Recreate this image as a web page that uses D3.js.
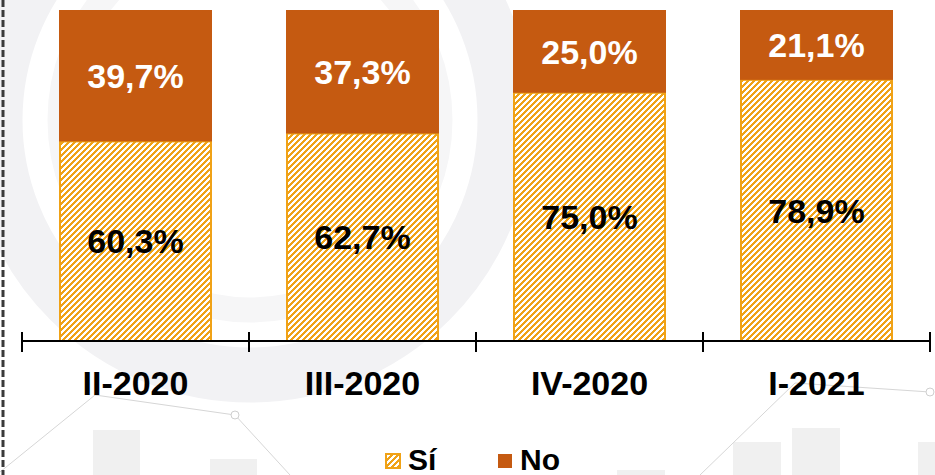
<!DOCTYPE html>
<html>
<head>
<meta charset="utf-8">
<script src="https://cdn.jsdelivr.net/npm/d3@7"></script>
<style>
  html, body { margin: 0; padding: 0; background: #ffffff; }
  svg { display: block; font-family: "Liberation Sans", Arial, sans-serif; }
</style>
</head>
<body>
<svg id="chart" width="935" height="475"></svg>
<script>
// Quarterly share of answers
const quarters = ["II-2020", "III-2020", "IV-2020", "I-2021"];
const siValues = [60.3, 62.7, 75.0, 78.9];
const noValues = [39.7, 37.3, 25.0, 21.1];
const seriesNames = ["Sí", "No"];

const W = 935, H = 475;
const svg = d3.select("#chart");

const colNo = "#C55A11";
const colSi = "#F0A216";

// pixel-aligned upward diagonal hatch for the "Sí" series (6x6 tile, 3px stripes)
const defs = svg.append("defs");
const T = 6;
const pat = defs.append("pattern")
  .attr("id", "hatch")
  .attr("patternUnits", "userSpaceOnUse")
  .attr("width", T).attr("height", T);
pat.append("rect").attr("width", T).attr("height", T).attr("fill", "#ffffff");
const tile = [];
for (let r = 0; r < T; r++) {
  for (let k = 0; k < 3; k++) tile.push([(T - 1 - r + k) % T, r]);
}
pat.selectAll("rect.px").data(tile).join("rect").attr("class", "px")
  .attr("x", d => d[0]).attr("y", d => d[1]).attr("width", 1).attr("height", 1)
  .attr("fill", colSi).attr("shape-rendering", "crispEdges");

// faint background emblem
const bg = svg.append("g").attr("class", "backdrop");
bg.append("circle").attr("cx", 250).attr("cy", 120).attr("r", 255)
  .attr("fill", "none").attr("stroke", "#f2f2f4").attr("stroke-width", 55);
bg.append("circle").attr("cx", 250).attr("cy", 120).attr("r", 190)
  .attr("fill", "none").attr("stroke", "#f6f6f7").attr("stroke-width", 25);
const blocks = [[93, 430, 47], [210, 459, 47], [617, 470, 48], [733, 442, 48], [792, 428, 48], [918, 442, 30]];
bg.selectAll("rect.blk").data(blocks).join("rect").attr("class", "blk")
  .attr("x", d => d[0]).attr("y", d => d[1]).attr("width", d => d[2]).attr("height", d => H - d[1])
  .attr("fill", "#f0f0f0");
const trail = [[0, 472], [95, 395], [235, 415], [290, 475]];
const trail2 = [[700, 475], [795, 383], [930, 392]];
[trail, trail2].forEach(t => {
  bg.append("path").attr("d", d3.line()(t)).attr("fill", "none")
    .attr("stroke", "#d6d6d6").attr("stroke-width", 1);
});
[[235, 415], [930, 392]].forEach(p => {
  bg.append("circle").attr("cx", p[0]).attr("cy", p[1]).attr("r", 4)
    .attr("fill", "#fff").attr("stroke", "#cfcfcf").attr("stroke-width", 1);
});

// left dashed rule
svg.append("line").attr("x1", 3).attr("x2", 3).attr("y1", 0).attr("y2", H)
  .attr("stroke", "#3a3a3a").attr("stroke-width", 3).attr("stroke-dasharray", "7,3");

const x = d3.scaleBand().domain(quarters).range([22, 930]).paddingInner(0.326).paddingOuter(0.163);
const y = d3.scaleLinear().domain([0, 100]).range([341, 10]);

const rows = quarters.map((q, i) => ({ q, si: siValues[i], no: noValues[i] }));

// "Sí" segment
svg.selectAll("rect.si").data(rows).join("rect").attr("class", "si")
  .attr("x", d => x(d.q) + 1).attr("width", x.bandwidth() - 2)
  .attr("y", d => y(d.si)).attr("height", d => y(0) - y(d.si))
  .attr("fill", "url(#hatch)").attr("stroke", colSi).attr("stroke-width", 2);

// "No" segment stacked on top
svg.selectAll("rect.no").data(rows).join("rect").attr("class", "no")
  .attr("x", d => x(d.q)).attr("width", x.bandwidth())
  .attr("y", d => y(d.si + d.no)).attr("height", d => y(d.si) - y(d.si + d.no))
  .attr("fill", colNo);

const fmt = v => v.toFixed(1).replace(".", ",") + "%";

svg.selectAll("text.vsi").data(rows).join("text").attr("class", "vsi")
  .attr("x", d => x(d.q) + x.bandwidth() / 2)
  .attr("y", d => (y(0) + y(d.si)) / 2)
  .attr("dy", "0.36em").attr("text-anchor", "middle")
  .attr("font-size", 34).attr("font-weight", "bold").attr("fill", "#000")
  .text(d => fmt(d.si));

svg.selectAll("text.vno").data(rows).join("text").attr("class", "vno")
  .attr("x", d => x(d.q) + x.bandwidth() / 2)
  .attr("y", d => (y(d.si) + y(d.si + d.no)) / 2)
  .attr("dy", "0.36em").attr("text-anchor", "middle")
  .attr("font-size", 34).attr("font-weight", "bold").attr("fill", "#fff")
  .text(d => fmt(d.no));

// category axis with ticks between bands
const axisG = svg.append("g");
axisG.append("line").attr("x1", 22).attr("x2", 930).attr("y1", 341).attr("y2", 341)
  .attr("stroke", "#000").attr("stroke-width", 2);
const edges = quarters.map(q => x(q) - x.step() * x.paddingInner() / 2).concat([930]);
axisG.selectAll("line.tk").data(edges).join("line").attr("class", "tk")
  .attr("x1", d => d).attr("x2", d => d).attr("y1", 332).attr("y2", 352)
  .attr("stroke", "#000").attr("stroke-width", 2);
axisG.selectAll("text.cat").data(quarters).join("text").attr("class", "cat")
  .attr("x", d => x(d) + x.bandwidth() / 2).attr("y", 395)
  .attr("text-anchor", "middle").attr("font-size", 34).attr("font-weight", "bold")
  .attr("fill", "#000").text(d => d);

// legend
const legend = svg.append("g");
const legItems = [
  { name: seriesNames[0], fill: "url(#hatch)", stroke: colSi, sx: 385 },
  { name: seriesNames[1], fill: colNo, stroke: "none", sx: 497 }
];
legItems.forEach(it => {
  legend.append("rect").attr("x", it.sx + 1).attr("y", 454).attr("width", 14).attr("height", 14)
    .attr("fill", it.fill).attr("stroke", it.stroke).attr("stroke-width", 2);
  legend.append("text").attr("x", it.sx + 23).attr("y", 470)
    .attr("font-size", 30).attr("font-weight", "bold").attr("fill", "#000").text(it.name);
});
</script>
</body>
</html>
